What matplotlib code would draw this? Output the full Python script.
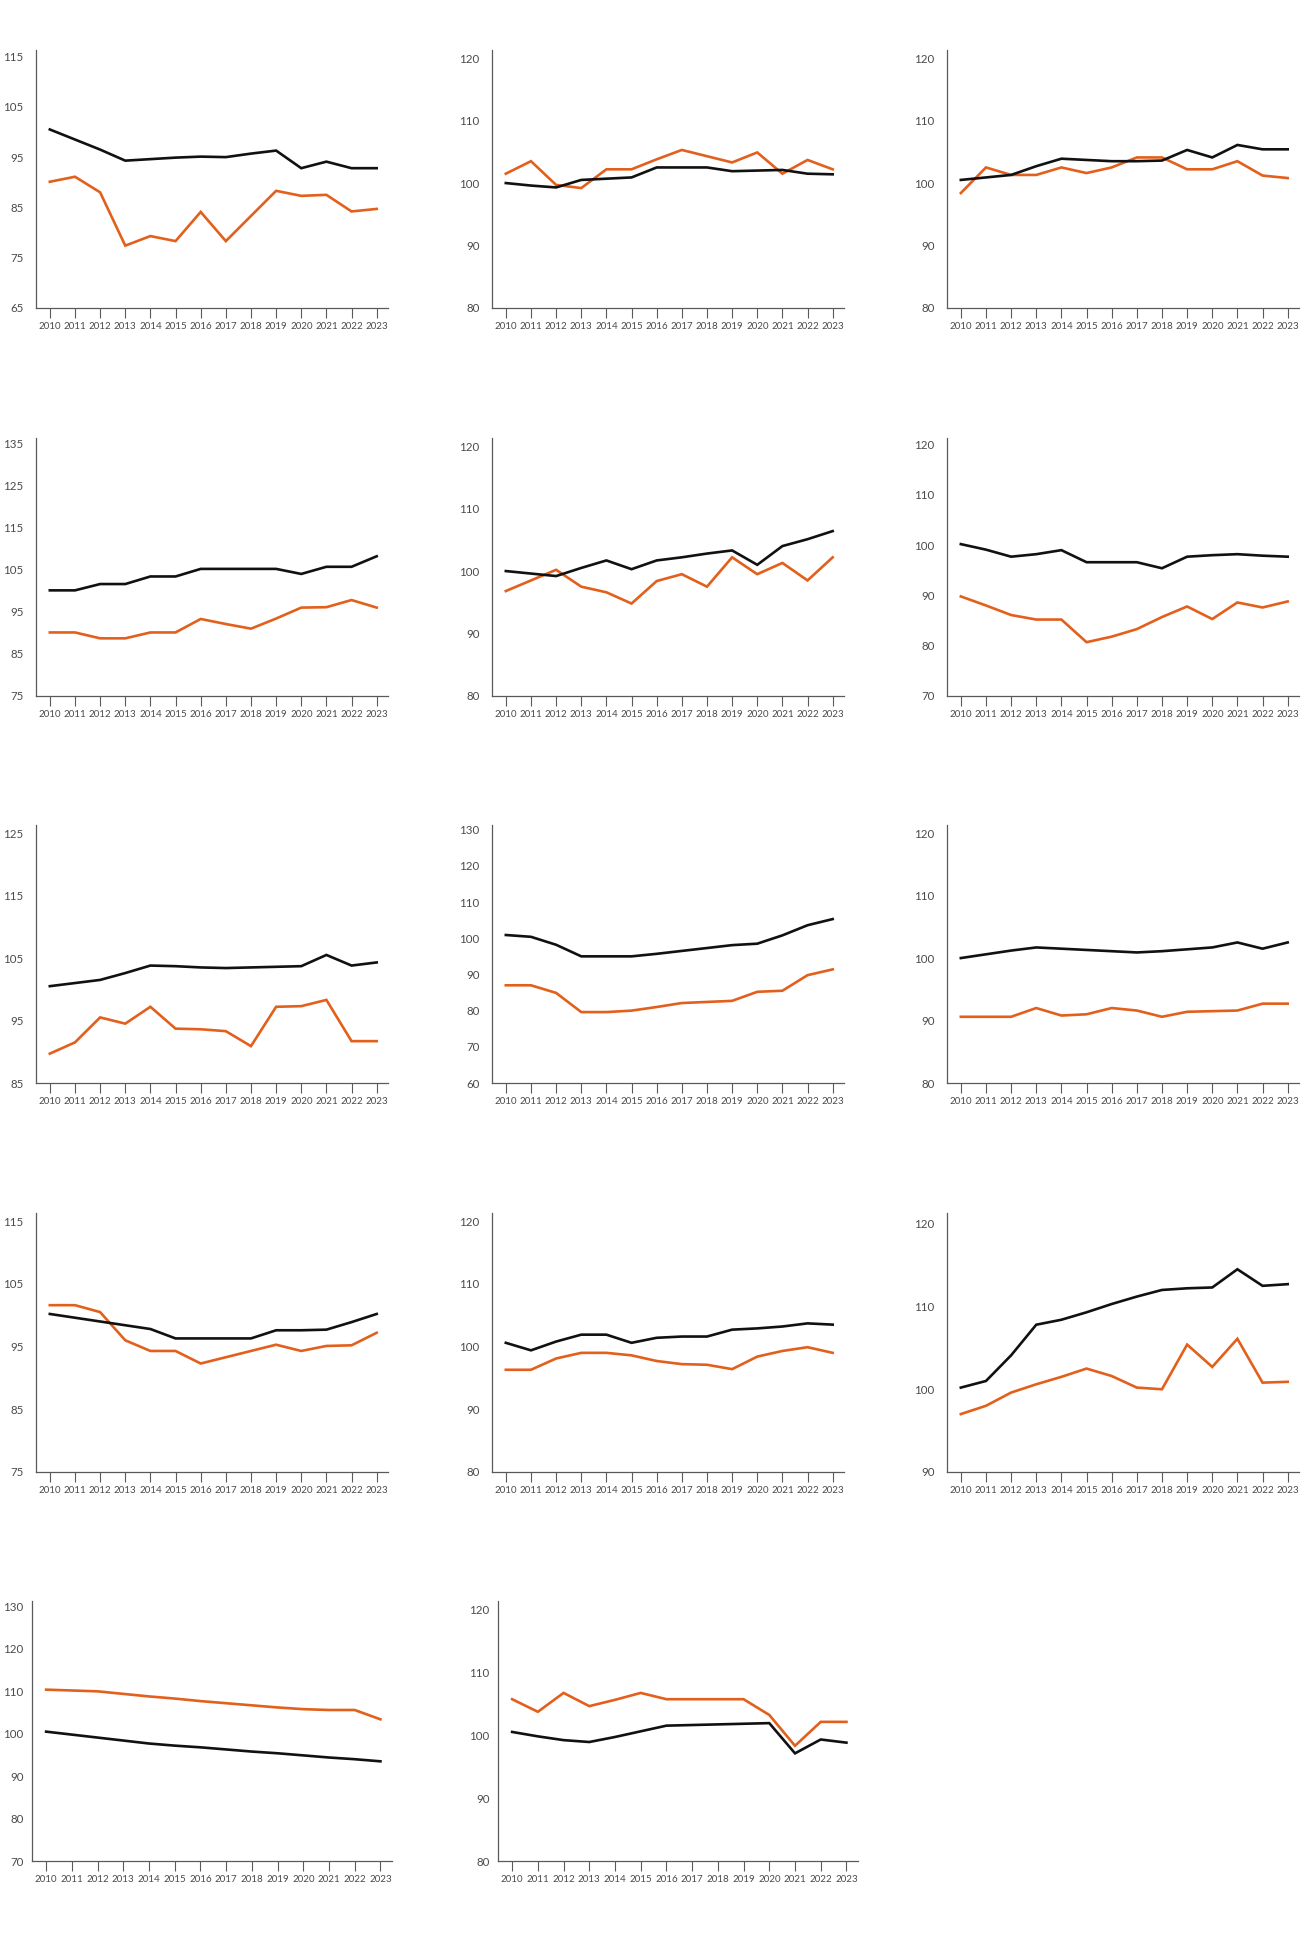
import matplotlib
matplotlib.use("Agg")
import matplotlib.pyplot as plt

years = list(range(2010, 2024))

# index values per panel (black / orange)
p1_black = [100.5, 98.5, 96.5, 94.3, 94.6, 94.9, 95.1, 95.0, 95.7, 96.3, 92.8, 94.1, 92.8, 92.8]
p1_orange = [90.1, 91.1, 88.0, 77.4, 79.3, 78.3, 84.1, 78.3, 83.3, 88.3, 87.3, 87.5, 84.2, 84.7]

p2_black = [100.0, 99.6, 99.3, 100.5, 100.7, 100.9, 102.5, 102.5, 102.5, 101.9, 102.0, 102.1, 101.5, 101.4]
p2_orange = [101.5, 103.5, 99.7, 99.2, 102.2, 102.2, 103.8, 105.3, 104.3, 103.3, 104.9, 101.5, 103.7, 102.2]

p3_black = [100.5, 100.9, 101.3, 102.7, 103.9, 103.7, 103.5, 103.5, 103.6, 105.3, 104.1, 106.1, 105.4, 105.4]
p3_orange = [98.4, 102.5, 101.3, 101.3, 102.5, 101.6, 102.5, 104.1, 104.1, 102.2, 102.2, 103.5, 101.2, 100.8]

p4_black = [100.1, 100.1, 101.6, 101.6, 103.4, 103.4, 105.2, 105.2, 105.2, 105.2, 104.0, 105.7, 105.7, 108.2]
p4_orange = [90.1, 90.1, 88.7, 88.7, 90.1, 90.1, 93.3, 92.1, 91.0, 93.4, 96.0, 96.1, 97.8, 96.0]

p5_black = [100.0, 99.6, 99.2, 100.5, 101.7, 100.3, 101.7, 102.2, 102.8, 103.3, 101.0, 104.0, 105.1, 106.4]
p5_orange = [96.8, 98.5, 100.2, 97.5, 96.6, 94.8, 98.4, 99.5, 97.5, 102.2, 99.5, 101.3, 98.5, 102.2]

p6_black = [100.2, 99.1, 97.7, 98.2, 99.0, 96.6, 96.6, 96.6, 95.4, 97.7, 98.0, 98.2, 97.9, 97.7]
p6_orange = [89.8, 88.0, 86.1, 85.2, 85.2, 80.7, 81.8, 83.3, 85.7, 87.8, 85.3, 88.6, 87.6, 88.8]

p7_black = [100.5, 101.0, 101.5, 102.6, 103.8, 103.7, 103.5, 103.4, 103.5, 103.6, 103.7, 105.5, 103.8, 104.3]
p7_orange = [89.7, 91.5, 95.5, 94.5, 97.2, 93.7, 93.6, 93.3, 90.9, 97.2, 97.3, 98.3, 91.7, 91.7]

p8_black = [100.9, 100.4, 98.2, 95.0, 95.0, 95.0, 95.7, 96.5, 97.3, 98.1, 98.5, 100.8, 103.6, 105.3]
p8_orange = [87.0, 87.0, 84.9, 79.6, 79.6, 80.0, 81.0, 82.1, 82.4, 82.7, 85.2, 85.5, 89.8, 91.4]

p9_black = [100.0, 100.6, 101.2, 101.7, 101.5, 101.3, 101.1, 100.9, 101.1, 101.4, 101.7, 102.5, 101.5, 102.5]
p9_orange = [90.6, 90.6, 90.6, 92.0, 90.8, 91.0, 92.0, 91.6, 90.6, 91.4, 91.5, 91.6, 92.7, 92.7]

p10_black = [100.2, 99.6, 99.0, 98.4, 97.8, 96.3, 96.3, 96.3, 96.3, 97.6, 97.6, 97.7, 98.9, 100.2]
p10_orange = [101.6, 101.6, 100.5, 96.0, 94.3, 94.3, 92.3, 93.3, 94.3, 95.3, 94.3, 95.1, 95.2, 97.2]

p11_black = [100.6, 99.4, 100.8, 101.9, 101.9, 100.6, 101.4, 101.6, 101.6, 102.7, 102.9, 103.2, 103.7, 103.5]
p11_orange = [96.3, 96.3, 98.1, 99.0, 99.0, 98.6, 97.7, 97.2, 97.1, 96.4, 98.4, 99.3, 99.9, 99.0]

p12_black = [100.2, 101.0, 104.1, 107.8, 108.4, 109.3, 110.3, 111.2, 112.0, 112.2, 112.3, 114.5, 112.5, 112.7]
p12_orange = [97.0, 98.0, 99.6, 100.6, 101.5, 102.5, 101.6, 100.2, 100.0, 105.4, 102.7, 106.1, 100.8, 100.9]

p13_black = [100.5, 99.8, 99.1, 98.4, 97.7, 97.2, 96.8, 96.3, 95.8, 95.4, 94.9, 94.4, 94.0, 93.5]
p13_orange = [110.4, 110.2, 110.0, 109.4, 108.8, 108.3, 107.7, 107.2, 106.7, 106.2, 105.8, 105.6, 105.6, 103.4]

p14_black = [100.5, 99.8, 99.2, 98.9, 99.7, 100.6, 101.5, 101.6, 101.7, 101.8, 101.9, 97.1, 99.3, 98.8]
p14_orange = [105.7, 103.7, 106.7, 104.6, 105.6, 106.7, 105.7, 105.7, 105.7, 105.7, 103.2, 98.3, 102.1, 102.1]

black_series = [p1_black, p2_black, p3_black, p4_black, p5_black, p6_black, p7_black,
                p8_black, p9_black, p10_black, p11_black, p12_black, p13_black, p14_black]
orange_series = [p1_orange, p2_orange, p3_orange, p4_orange, p5_orange, p6_orange, p7_orange,
                 p8_orange, p9_orange, p10_orange, p11_orange, p12_orange, p13_orange, p14_orange]

# y axis range (low, high) per panel, ticks every 10
y_ranges = [(65, 115), (80, 120), (80, 120),
            (75, 135), (80, 120), (70, 120),
            (85, 125), (60, 130), (80, 120),
            (75, 115), (80, 120), (90, 120),
            (70, 130), (80, 120)]

BLACK = "#111111"
ORANGE = "#E2601C"
AXIS = "#5a5a5a"
TEXT = "#4a4a4a"

W, H = 1306, 1936
fig = plt.figure(figsize=(W / 100, H / 100), dpi=100)
fig.patch.set_facecolor("white")

row_top = [50, 438, 825, 1213, 1601]
row_bot = [308, 696, 1083, 1472, 1861]
col_left = [36, 492, 947]
col_w = 352
last_left = [32, 498]
last_w = 360

for i in range(14):
    r, c = divmod(i, 3)
    if r < 4:
        left, width = col_left[c], col_w
        ypad = 9
    else:
        left, width = last_left[c], last_w
        ypad = 6
    top, bot = row_top[r], row_bot[r]
    ax = fig.add_axes([left / W, 1 - bot / H, width / W, (bot - top) / H])

    lo, hi = y_ranges[i]
    ax.plot(years, orange_series[i], color=ORANGE, lw=1.9, solid_joinstyle="miter")
    ax.plot(years, black_series[i], color=BLACK, lw=1.9, solid_joinstyle="miter")

    ax.set_ylim(lo, hi + 1.3)
    ax.set_yticks(range(lo, hi + 1, 10))
    ax.set_xlim(2009.45, 2023.45)
    ax.set_xticks(years)
    ax.set_xticklabels([str(y) for y in years])

    for s in ["top", "right"]:
        ax.spines[s].set_visible(False)
    for s in ["left", "bottom"]:
        ax.spines[s].set_color(AXIS)
        ax.spines[s].set_linewidth(0.9)

    ax.tick_params(axis="x", length=7, width=0.8, color=AXIS, pad=3,
                   labelsize=7, labelcolor=TEXT)
    ax.tick_params(axis="y", length=0, pad=ypad, labelsize=8.3, labelcolor=TEXT)
    for lab in ax.get_xticklabels() + ax.get_yticklabels():
        lab.set_family(["Lato", "DejaVu Sans"])
        lab.set_fontweight("normal")

fig.savefig("out.png", dpi=100, facecolor="white")
